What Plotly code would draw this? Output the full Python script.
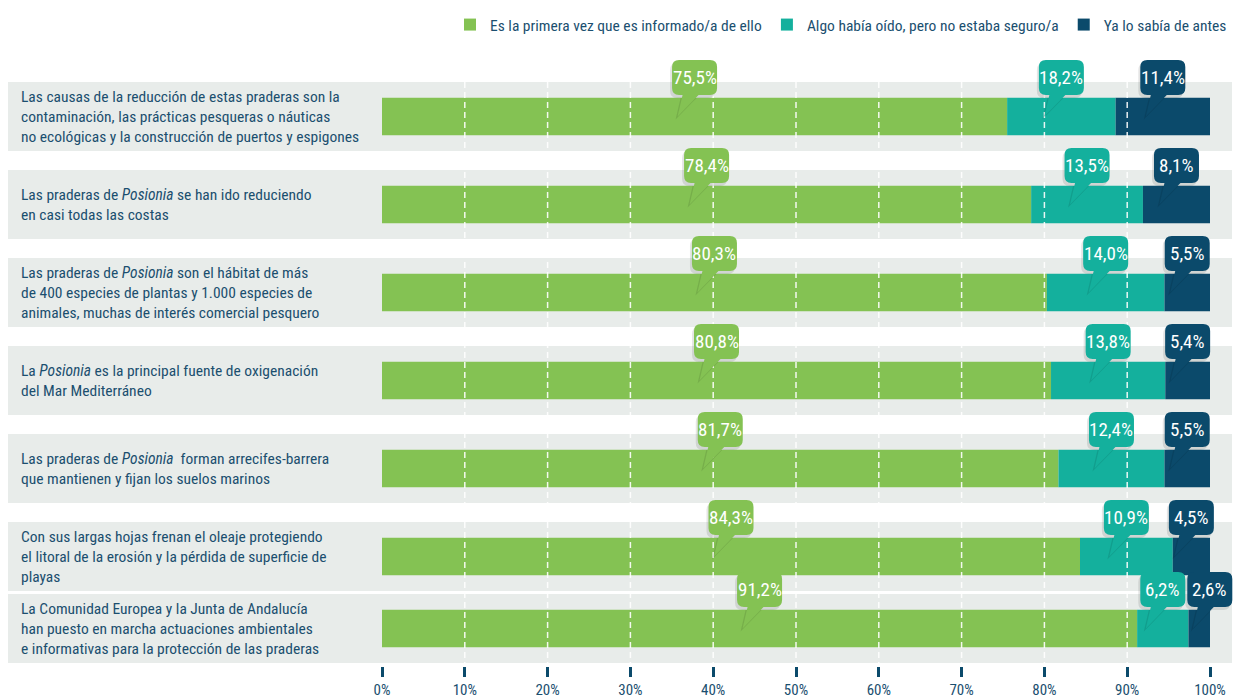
import plotly.graph_objects as go

# ---- data -------------------------------------------------------------
statements = [
    "Las causas de la reducción de estas praderas son la<br>contaminación, las prácticas pesqueras o náuticas<br>no ecológicas y la construcción de puertos y espigones",
    "Las praderas de <i>Posionia</i> se han ido reduciendo<br>en casi todas las costas",
    "Las praderas de <i>Posionia</i> son el hábitat de más<br>de 400 especies de plantas y 1.000 especies de<br>animales, muchas de interés comercial pesquero",
    "La <i>Posionia</i> es la principal fuente de oxigenación<br>del Mar Mediterráneo",
    "Las praderas de <i>Posionia</i>  forman arrecifes-barrera<br>que mantienen y fijan los suelos marinos",
    "Con sus largas hojas frenan el oleaje protegiendo<br>el litoral de la erosión y la pérdida de superficie de<br>playas",
    "La Comunidad Europea y la Junta de Andalucía<br>han puesto en marcha actuaciones ambientales<br>e informativas para la protección de las praderas",
]
first_time = [75.5, 78.4, 80.3, 80.8, 81.7, 84.3, 91.2]
heard = [18.2, 13.5, 14.0, 13.8, 12.4, 10.9, 6.2]
knew = [11.4, 8.1, 5.5, 5.4, 5.5, 4.5, 2.6]
series_names = [
    "Es la primera vez que es informado/a de ello",
    "Algo había oído, pero no estaba seguro/a",
    "Ya lo sabía de antes",
]
tick_values = [0, 10, 20, 30, 40, 50, 60, 70, 80, 90, 100]
tick_labels = ["0%", "10%", "20%", "30%", "40%", "50%", "60%", "70%", "80%", "90%", "100%"]

# ---- look -------------------------------------------------------------
# the page puts the figure 8px in from the top-left corner
W, H = 1234, 692
ZERO_PX = 374          # where 0% sits
PX_PER_PCT = 8.28      # 0% -> 100% spans 828 px
BOTTOM = 34
row_y = [108.5, 196.5, 284.5, 372.5, 460.5, 548.5, 620.5]   # row centres, px from top
BAR_H = 37.5
BAND_H = 69

GREEN = "#84c253"
TEAL = "#14b09d"
NAVY = "#0b4a6b"
TEXT = "#1b4f6f"
BAND = "#e8ecea"
FONT = "Roboto Condensed, DejaVu Sans Condensed, sans-serif"
colors = [GREEN, TEAL, NAVY]


def fmt(v):
    return ("%.1f" % v).replace(".", ",") + "%"


def bubble(w=45, h=35, gap=21.5, r=7, tail=(-12, 4), tip=(-17, 0), dx=0, dy=0):
    l, rt, b, t = -w / 2 + dx, w / 2 + dx, gap + dy, gap + h + dy
    tx0, tx1, px, py = tail[0] + dx, tail[1] + dx, tip[0] + dx, tip[1] + dy
    return (f"M{l+r},{b} L{tx0},{b} L{px},{py} L{tx1},{b} L{rt-r},{b} "
            f"Q{rt},{b} {rt},{b+r} L{rt},{t-r} Q{rt},{t} {rt-r},{t} L{l+r},{t} "
            f"Q{l},{t} {l},{t-r} L{l},{b+r} Q{l},{b} {l+r},{b} Z")


teal_start = first_time
dark_start = [100 - k for k in knew]
teal_width = [d - s for s, d in zip(teal_start, dark_start)]

fig = go.Figure()
fig.add_trace(go.Bar(y=row_y, x=first_time, base=[0] * len(row_y), orientation="h",
                     width=BAR_H, marker=dict(color=GREEN, line=dict(width=0)),
                     name=series_names[0], customdata=first_time,
                     hovertemplate="%{customdata}%<extra></extra>"))
fig.add_trace(go.Bar(y=row_y, x=teal_width, base=teal_start, orientation="h",
                     width=BAR_H, marker=dict(color=TEAL, line=dict(width=0)),
                     name=series_names[1], customdata=heard,
                     hovertemplate="%{customdata}%<extra></extra>"))
fig.add_trace(go.Bar(y=row_y, x=knew, base=dark_start, orientation="h",
                     width=BAR_H, marker=dict(color=NAVY, line=dict(width=0)),
                     name=series_names[2], customdata=knew,
                     hovertemplate="%{customdata}%<extra></extra>"))

shapes = []
annotations = []
# grey row bands + statement text
for y, txt in zip(row_y, statements):
    shapes.append(dict(type="rect", xref="paper", yref="y", x0=0, x1=1224 / W,
                       y0=y - BAND_H / 2, y1=y + BAND_H / 2, fillcolor=BAND,
                       line=dict(width=0), layer="below"))
    annotations.append(dict(xref="paper", yref="y", x=11 / W, y=y, text=txt,
                            xanchor="left", yanchor="middle", align="left",
                            showarrow=False, font=dict(family=FONT, size=15.5, color=TEXT)))

# dashed white guides over the bars
for v in tick_values[1:-1]:
    shapes.append(dict(type="line", xref="x", yref="y", x0=v, x1=v,
                       y0=row_y[0] - BAND_H / 2, y1=row_y[-1] + BAND_H / 2,
                       line=dict(color="rgba(255,255,255,0.9)", width=1.5, dash="6px,4px"),
                       layer="above"))

# speech-bubble labels
for i, y in enumerate(row_y):
    cx = [first_time[i] / 2,
          (teal_start[i] + dark_start[i]) / 2,
          100 - knew[i] / 2]
    # keep the two right bubbles from overlapping
    min_sep = 47 / PX_PER_PCT
    if cx[2] - cx[1] < min_sep:
        cx[2] = cx[1] + min_sep
    vals = [first_time[i], heard[i], knew[i]]
    for c, v, col in zip(cx, vals, colors):
        shapes.append(dict(type="path", xref="x", yref="y", xsizemode="pixel",
                           ysizemode="pixel", xanchor=c, yanchor=y,
                           path=bubble(dx=-2, dy=-3), fillcolor="rgba(0,0,0,0.10)",
                           line=dict(width=0), layer="above"))
        shapes.append(dict(type="path", xref="x", yref="y", xsizemode="pixel",
                           ysizemode="pixel", xanchor=c, yanchor=y,
                           path=bubble(), fillcolor=col,
                           line=dict(width=0), layer="above"))
        annotations.append(dict(xref="x", yref="y", x=c, y=y, yshift=39, text=fmt(v),
                                showarrow=False, xanchor="center", yanchor="middle",
                                font=dict(family=FONT, size=19, color="white")))

fig.update_layout(
    width=W, height=H,
    margin=dict(l=0, r=0, t=0, b=BOTTOM),
    paper_bgcolor="white", plot_bgcolor="white",
    barmode="overlay",
    showlegend=True,
    legend=dict(orientation="h", x=1224 / W, xanchor="right", y=1.0, yanchor="top",
                font=dict(family=FONT, size=15.5, color=TEXT), traceorder="normal",
                bgcolor="rgba(0,0,0,0)"),
    shapes=shapes,
    annotations=annotations,
    xaxis=dict(range=[-ZERO_PX / PX_PER_PCT, (W - ZERO_PX) / PX_PER_PCT],
               tickvals=tick_values, ticktext=tick_labels, ticks="outside",
               ticklen=10, tickwidth=2.5, tickcolor=NAVY, showgrid=False,
               zeroline=False, showline=False,
               tickfont=dict(family=FONT, size=15, color=TEXT), fixedrange=True),
    yaxis=dict(range=[H - BOTTOM, 0], visible=False, showgrid=False, zeroline=False,
               fixedrange=True),
)

fig.write_html("out.html")
